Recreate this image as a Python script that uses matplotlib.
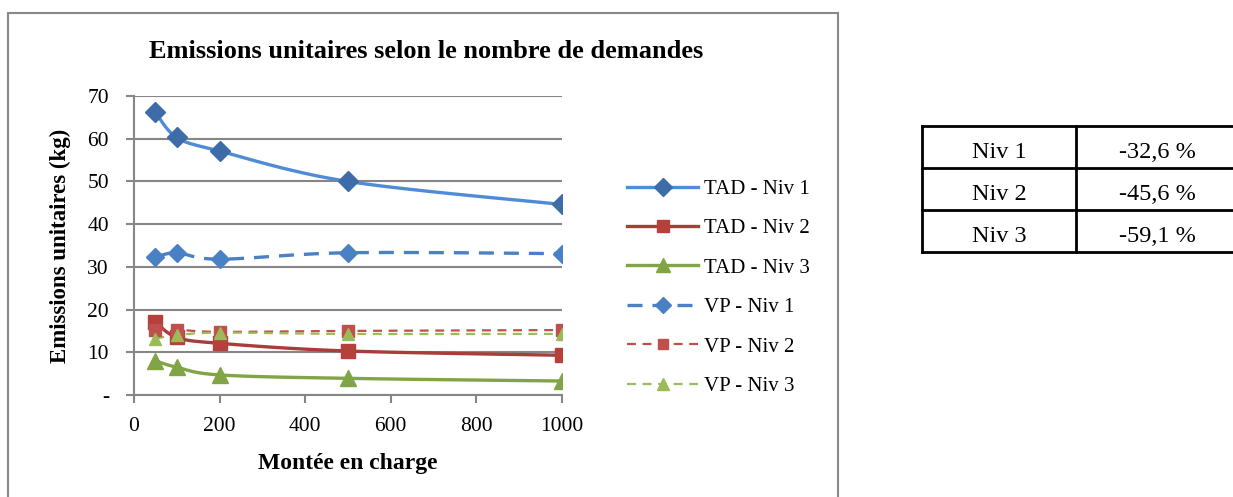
import numpy as np
import matplotlib
matplotlib.use('Agg')
import matplotlib.pyplot as plt
from matplotlib.patches import Rectangle

plt.rcParams['font.family'] = ['Liberation Serif', 'DejaVu Serif']

# Montée en charge (nombre de demandes)
demandes = [50, 100, 200, 500, 1000]

tad_niv1 = [66.2, 60.3, 57.1, 50.0, 44.6]
tad_niv2 = [17.1, 13.5, 12.1, 10.3, 9.3]
tad_niv3 = [8.0, 6.5, 4.7, 3.9, 3.27]
vp_niv1 = [32.2, 33.3, 31.8, 33.3, 33.1]
vp_niv2 = [15.3, 15.3, 14.8, 15.0, 15.2]
vp_niv3 = [13.2, 14.0, 14.6, 14.3, 14.3]

y_ticks = [0, 10, 20, 30, 40, 50, 60, 70]
y_tick_labels = ['-', '10', '20', '30', '40', '50', '60', '70']
x_ticks = [0, 200, 400, 600, 800, 1000]

niveaux = ['Niv 1', 'Niv 2', 'Niv 3']
variations = ['-32,6 %', '-45,6 %', '-59,1 %']


def smooth(xs, ys, n=30):
    # courbe lissée type Catmull-Rom, calculée dans un repère normalisé
    sx, sy = 1000.0, 70.0 * 428 / 300
    p = np.column_stack([np.asarray(xs) / sx, np.asarray(ys) / sy])
    p = np.vstack([p[0], p, p[-1]])
    out = []
    for i in range(1, len(p) - 2):
        p0, p1, p2, p3 = p[i - 1], p[i], p[i + 1], p[i + 2]
        t = np.linspace(0, 1, n)[:, None]
        c = 0.5 * ((2 * p1) + (-p0 + p2) * t
                   + (2 * p0 - 5 * p1 + 4 * p2 - p3) * t ** 2
                   + (-p0 + 3 * p1 - 3 * p2 + p3) * t ** 3)
        out.append(c)
    c = np.vstack(out)
    return c[:, 0] * sx, c[:, 1] * sy


fig = plt.figure(figsize=(12.33, 4.97), dpi=100)
fig.patches.append(Rectangle((8 / 1233, -0.01), 830 / 1233, 1 - 13 / 497 + 0.01,
                             transform=fig.transFigure, fill=False,
                             edgecolor='#888888', lw=1.5))

ax = fig.add_axes([134 / 1233, 1 - 395 / 497, 428 / 1233, 299 / 497])

series = [
    ('TAD - Niv 1', tad_niv1, '#4F8BD6', '#3E6CA8', 'D', '-', 2.4, 10),
    ('TAD - Niv 2', tad_niv2, '#A83D39', '#B5403C', 's', '-', 2.4, 10),
    ('TAD - Niv 3', tad_niv3, '#80A446', '#80A446', '^', '-', 2.4, 11),
    ('VP - Niv 1', vp_niv1, '#4A80C4', '#4A80C4', 'D', (0, (4.5, 3)), 2.4, 9),
    ('VP - Niv 2', vp_niv2, '#C0504D', '#C0504D', 's', (0, (4, 3)), 1.6, 8),
    ('VP - Niv 3', vp_niv3, '#9BBB59', '#9BBB59', '^', (0, (4, 3)), 1.6, 9),
]

handles = []
for label, vals, lc, mc, mk, ls, lw, ms in series:
    sx, sy = smooth(demandes, vals)
    ax.plot(sx, sy, color=lc, ls=ls, lw=lw, zorder=3)
    ax.plot(demandes, vals, ls='none', marker=mk, ms=ms, color=mc,
            markeredgecolor=mc, zorder=4)
    h, = ax.plot([], [], color=lc, ls=ls, lw=lw, marker=mk, ms=ms * 0.9,
                 markerfacecolor=mc, markeredgecolor=mc, label=label)
    handles.append(h)

ax.set_xlim(0, 1000)
ax.set_ylim(0, 70)
ax.set_xticks(x_ticks)
ax.set_yticks(y_ticks)
ax.set_yticklabels(y_tick_labels)
ax.tick_params(axis='both', labelsize=15.5, color='#868686', width=1.5, length=6,
               direction='out')
ax.tick_params(axis='y', pad=12)
ax.tick_params(axis='x', pad=10)
ax.grid(axis='y', color='#868686', lw=1.5)
ax.set_axisbelow(True)
for s in ['top', 'right']:
    ax.spines[s].set_visible(False)
for s in ['left', 'bottom']:
    ax.spines[s].set_color('#868686')
    ax.spines[s].set_linewidth(1.5)

ax.set_xlabel('Montée en charge', fontsize=17, fontweight='bold', labelpad=12)
ax.set_ylabel('Emissions unitaires (kg)', fontsize=16.5, fontweight='bold',
              labelpad=12)
fig.text(426 / 1233, 1 - 52 / 497, 'Emissions unitaires selon le nombre de demandes',
         ha='center', va='center', fontsize=19, fontweight='bold')

fig.legend(handles=handles, loc='upper left',
           bbox_to_anchor=(617 / 1233, 1 - 169 / 497), frameon=False,
           fontsize=15, handlelength=3.4, labelspacing=0.95,
           borderpad=0, handletextpad=0.3)

# tableau des variations
tab = fig.add_axes([922 / 1233, 1 - 252 / 497, 316 / 1233, 126 / 497])
tab.set_xlim(0, 316)
tab.set_ylim(0, 126)
tab.axis('off')
for k in range(4):
    tab.plot([0, 316], [k * 42, k * 42], color='black', lw=2, clip_on=False)
for xv in [0, 154, 316]:
    tab.plot([xv, xv], [0, 126], color='black', lw=2, clip_on=False)
for i, (niv, var) in enumerate(zip(niveaux, variations)):
    yc = 126 - 26 - 42 * i
    tab.text(77, yc, niv, ha='center', va='center', fontsize=17.5)
    tab.text(235, yc, var, ha='center', va='center', fontsize=17.5)

fig.savefig('out.png', dpi=100)
